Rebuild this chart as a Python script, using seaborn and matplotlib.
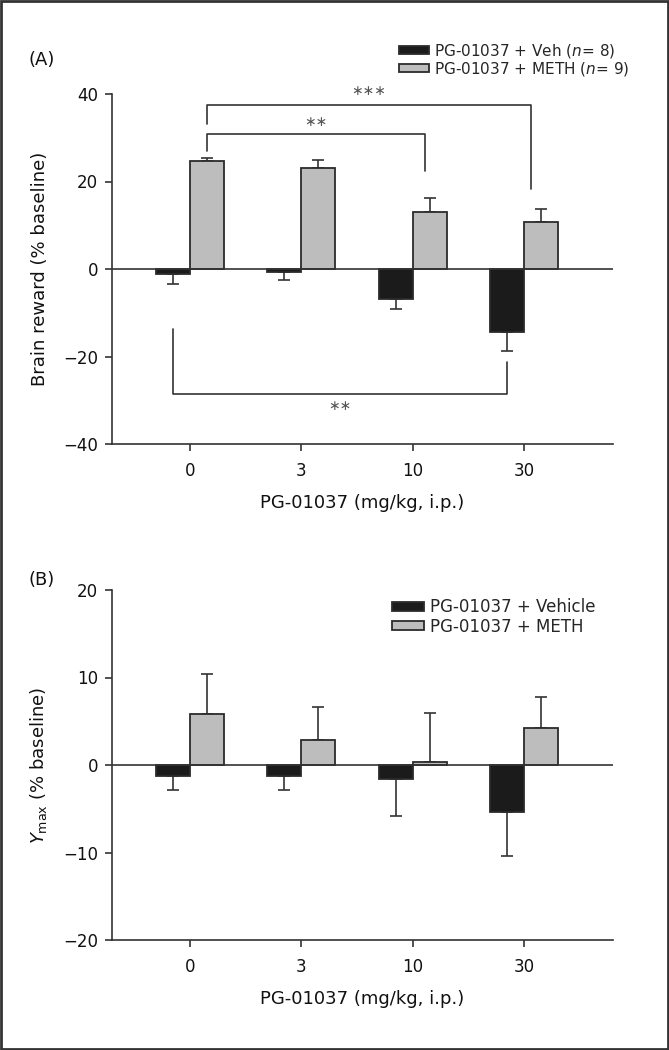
import numpy as np
import pandas as pd
import matplotlib
matplotlib.use("Agg")
import matplotlib.pyplot as plt
import seaborn as sns
from matplotlib.patches import Rectangle

# ---------------- data ----------------
doses = ["0", "3", "10", "30"]

veh_A = [-1.1, -0.6, -6.9, -14.3]
veh_A_sem = [2.3, 1.9, 2.3, 4.4]
meth_A = [24.7, 23.0, 13.0, 10.7]
meth_A_sem = [0.7, 2.0, 3.2, 3.0]

veh_B = [-1.3, -1.3, -1.6, -5.4]
veh_B_sem = [1.6, 1.6, 4.2, 5.0]
meth_B = [5.8, 2.9, 0.4, 4.2]
meth_B_sem = [4.6, 3.7, 5.6, 3.6]

labels_A = ["PG-01037 + Veh ($n$= 8)", "PG-01037 + METH ($n$= 9)"]
labels_B = ["PG-01037 + Vehicle", "PG-01037 + METH"]

# significance brackets for panel A:
# (dose1, hue1, dose2, hue2, y_bar, y_leg1, y_leg2, text, text_y, dx2)
brackets_A = [
    (0, 1, 3, 1, 37.4, 33.1, 18.4, "∗∗∗", 40.6, -0.09),
    (0, 1, 2, 1, 30.8, 27.0, 22.5, "∗∗", 33.6, -0.045),
    (0, 0, 3, 0, -28.5, -13.6, -21.2, "∗∗", -31.2, 0.0),
]

# ---------------- style ----------------
sns.set_theme(style="ticks")
plt.rcParams["font.family"] = ["DejaVu Sans"]
plt.rcParams["mathtext.fontset"] = "custom"
plt.rcParams["mathtext.rm"] = "DejaVu Sans"
plt.rcParams["mathtext.it"] = "DejaVu Sans:italic"

BLACK = "#1b1b1b"
GRAY = "#bdbdbd"
EDGE = "#2b2b2b"
LINE = "#333333"

W, H = 669, 1050
fig = plt.figure(figsize=(W / 100, H / 100), dpi=100)

def px_axes(left, top, right, bottom):
    return fig.add_axes([left / W, 1 - bottom / H, (right - left) / W, (bottom - top) / H])

axA = px_axes(112, 94, 613, 444)
axB = px_axes(112, 590, 613, 940)


def draw_panel(ax, veh, veh_sem, meth, meth_sem, labels, ylim, yticks, ylabel):
    df = pd.DataFrame({
        "dose": doses * 2,
        "group": [labels[0]] * 4 + [labels[1]] * 4,
        "value": list(veh) + list(meth),
    })
    sns.barplot(data=df, x="dose", y="value", hue="group", order=doses,
                hue_order=labels, palette=[BLACK, GRAY], width=0.61,
                errorbar=None, edgecolor=EDGE, linewidth=1.3, ax=ax,
                saturation=1, zorder=2)
    centers = []
    for cont, vals, sems in zip(ax.containers, [veh, meth], [veh_sem, meth_sem]):
        xs = [p.get_x() + p.get_width() / 2 for p in cont]
        centers.append(xs)
        vals = np.asarray(vals)
        sems = np.asarray(sems)
        lower = np.where(vals < 0, sems, 0)
        upper = np.where(vals >= 0, sems, 0)
        ax.errorbar(xs, vals, yerr=[lower, upper], fmt="none", ecolor=LINE,
                    elinewidth=1.2, capsize=4, capthick=1.2, zorder=1)
    ax.axhline(0, color=LINE, lw=1.2, zorder=3)
    ax.set_xlim(-0.70, 3.80)
    ax.set_ylim(*ylim)
    ax.set_yticks(yticks)
    ax.set_yticklabels(["−" + str(abs(t)) if t < 0 else str(t) for t in yticks])
    sns.despine(ax=ax)
    for s in ["left", "bottom"]:
        ax.spines[s].set_color(LINE)
        ax.spines[s].set_linewidth(1.2)
    ax.tick_params(axis="both", labelsize=12, color=LINE, width=1.2, length=5,
                   direction="out", labelcolor="#111111")
    ax.tick_params(axis="x", pad=8)
    ax.tick_params(axis="y", pad=5)
    ax.set_xlabel("PG-01037 (mg/kg, i.p.)", fontsize=13, labelpad=10, color="#111111")
    ax.set_ylabel(ylabel, fontsize=13, color="#111111")
    ax.yaxis.set_label_coords(-0.125, 0.5)
    return centers


cA = draw_panel(axA, veh_A, veh_A_sem, meth_A, meth_A_sem, labels_A,
                (-40, 40), [-40, -20, 0, 20, 40], "Brain reward (% baseline)")
cB = draw_panel(axB, veh_B, veh_B_sem, meth_B, meth_B_sem, labels_B,
                (-20, 20), [-20, -10, 0, 10, 20], r"$Y_{\mathrm{max}}$ (% baseline)")

# brackets
for d1, h1, d2, h2, yb, yl1, yl2, txt, ty, dx2 in brackets_A:
    x1 = cA[h1][d1]
    x2 = cA[h2][d2] + dx2
    axA.plot([x1, x1, x2, x2], [yl1, yb, yb, yl2], color=LINE, lw=1.2,
             clip_on=False, zorder=4)
    axA.text((x1 + x2) / 2, ty, txt, ha="center", va="center", fontsize=10,
             color="#555555", clip_on=False)

# legends
for ax, top_px, left_px, fs, ls in [(axA, 42, 399, 11, 0.0), (axB, 598, 392, 12, 0.1)]:
    handles, labs = ax.get_legend_handles_labels()
    if ax.get_legend() is not None:
        ax.get_legend().remove()
    fig.legend(handles, labs, loc="upper left",
               bbox_to_anchor=(left_px / W, 1 - top_px / H),
               bbox_transform=fig.transFigure, frameon=False, fontsize=fs,
               handlelength=1.95, handleheight=0.45, handletextpad=0.35,
               labelspacing=ls, borderpad=0, borderaxespad=0)

# panel letters
fig.text(42 / W, 1 - 60 / H, "(A)", ha="center", va="center", fontsize=13, color="#111111")
fig.text(42 / W, 1 - 580 / H, "(B)", ha="center", va="center", fontsize=13, color="#111111")

# figure border
fig.patches.append(Rectangle((0.0015, 0.001), 0.997, 0.998, transform=fig.transFigure,
                             fill=False, edgecolor="#333333", lw=2))

fig.savefig("out.png", dpi=100)
